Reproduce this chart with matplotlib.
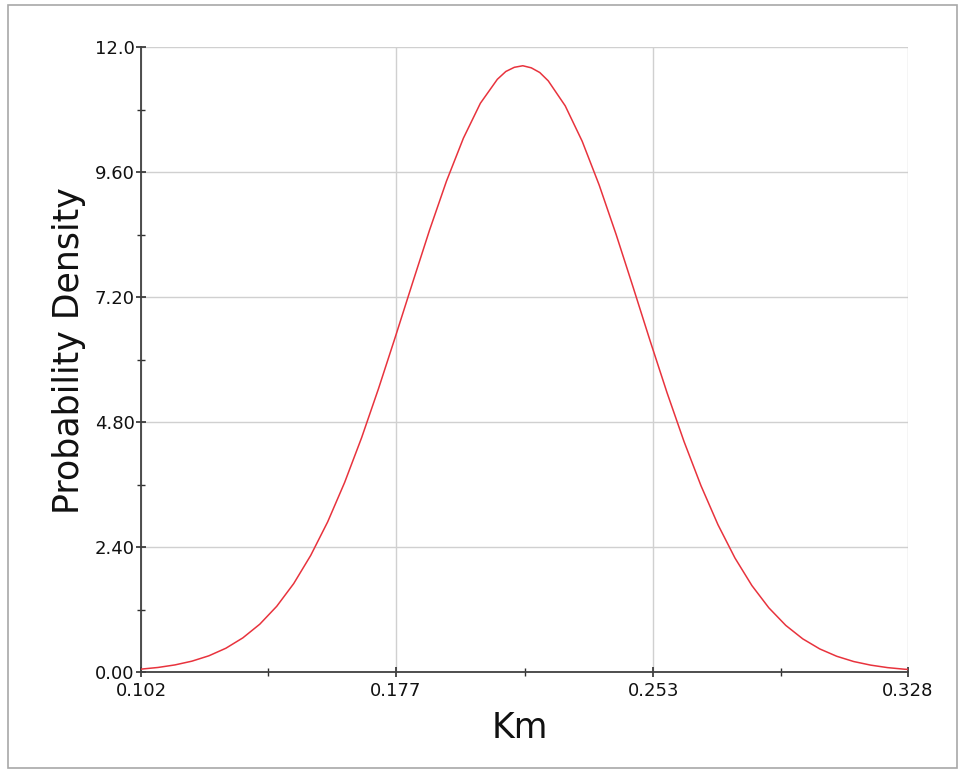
import matplotlib
matplotlib.use("Agg")
import matplotlib.pyplot as plt
from matplotlib.patches import Rectangle
from matplotlib.ticker import FixedLocator

# Values
km = [0.102, 0.107, 0.112, 0.117, 0.122, 0.127, 0.132, 0.137, 0.142, 0.147,
      0.152, 0.157, 0.162, 0.167, 0.172, 0.177, 0.182, 0.187, 0.192, 0.197,
      0.202, 0.207, 0.2095, 0.212, 0.2145, 0.217, 0.2195, 0.222, 0.227, 0.232,
      0.237, 0.242, 0.247, 0.252, 0.257, 0.262, 0.267, 0.272, 0.277, 0.282,
      0.287, 0.292, 0.297, 0.302, 0.307, 0.312, 0.317, 0.322, 0.327, 0.328]
density = [0.055, 0.087, 0.136, 0.208, 0.311, 0.456, 0.655, 0.918, 1.262, 1.698,
           2.238, 2.882, 3.639, 4.498, 5.444, 6.446, 7.469, 8.480, 9.423, 10.25,
           10.92, 11.38, 11.53, 11.61, 11.64, 11.60, 11.51, 11.35, 10.87, 10.19,
           9.350, 8.400, 7.389, 6.361, 5.362, 4.426, 3.577, 2.829, 2.190, 1.660,
           1.232, 0.894, 0.636, 0.443, 0.302, 0.201, 0.132, 0.084, 0.053, 0.050]

x_ticks = [0.102, 0.177, 0.253, 0.328]
x_tick_labels = ["0.102", "0.177", "0.253", "0.328"]
x_minor = [0.1395, 0.215, 0.2905]
y_ticks = [0.0, 2.4, 4.8, 7.2, 9.6, 12.0]
y_tick_labels = ["0.00", "2.40", "4.80", "7.20", "9.60", "12.0"]
y_minor = [1.2, 3.6, 6.0, 8.4, 10.8]

fig = plt.figure(figsize=(9.59, 7.70), dpi=100)
ax = fig.add_axes([141/959, 1 - 672/770, (908-141)/959, (672-47)/770])

ax.plot(km, density, color="#e8333d", lw=1.1, zorder=3)

ax.set_xlim(0.102, 0.328)
ax.set_ylim(0, 12.0)
ax.set_xticks(x_ticks)
ax.set_xticklabels(x_tick_labels)
ax.set_yticks(y_ticks)
ax.set_yticklabels(y_tick_labels)
ax.xaxis.set_minor_locator(FixedLocator(x_minor))
ax.yaxis.set_minor_locator(FixedLocator(y_minor))

ax.grid(True, which="major", color="#d0d0d0", lw=1.0, zorder=0)
ax.set_axisbelow(True)

for s in ["top", "right"]:
    ax.spines[s].set_visible(False)
for s in ["left", "bottom"]:
    ax.spines[s].set_color("#404040")
    ax.spines[s].set_linewidth(1.3)

ax.tick_params(which="major", direction="inout", length=7, width=1.2,
               color="#303030", labelsize=13, labelcolor="#111111")
ax.tick_params(axis="y", which="major", pad=1)
ax.tick_params(axis="x", which="major", pad=3.5)
ax.tick_params(which="minor", direction="inout", length=6, width=1.0,
               color="#303030")

ax.set_xlabel("Km", fontsize=25, color="#111111")
ax.set_ylabel("Probability Density", fontsize=25, color="#111111")
ax.xaxis.set_label_coords((520-141)/767, -(728-672)/625)
ax.yaxis.set_label_coords(-(141-69)/767, (672-351)/625)
ax.xaxis.label.set_va("center")
ax.yaxis.label.set_va("center")

fig.patches.append(Rectangle((8/959, 1 - 768/770), (957-8)/959, (768-5)/770,
                             transform=fig.transFigure, fill=False,
                             edgecolor="#a8a8a8", lw=1.2))

fig.savefig("out.png", dpi=100)
